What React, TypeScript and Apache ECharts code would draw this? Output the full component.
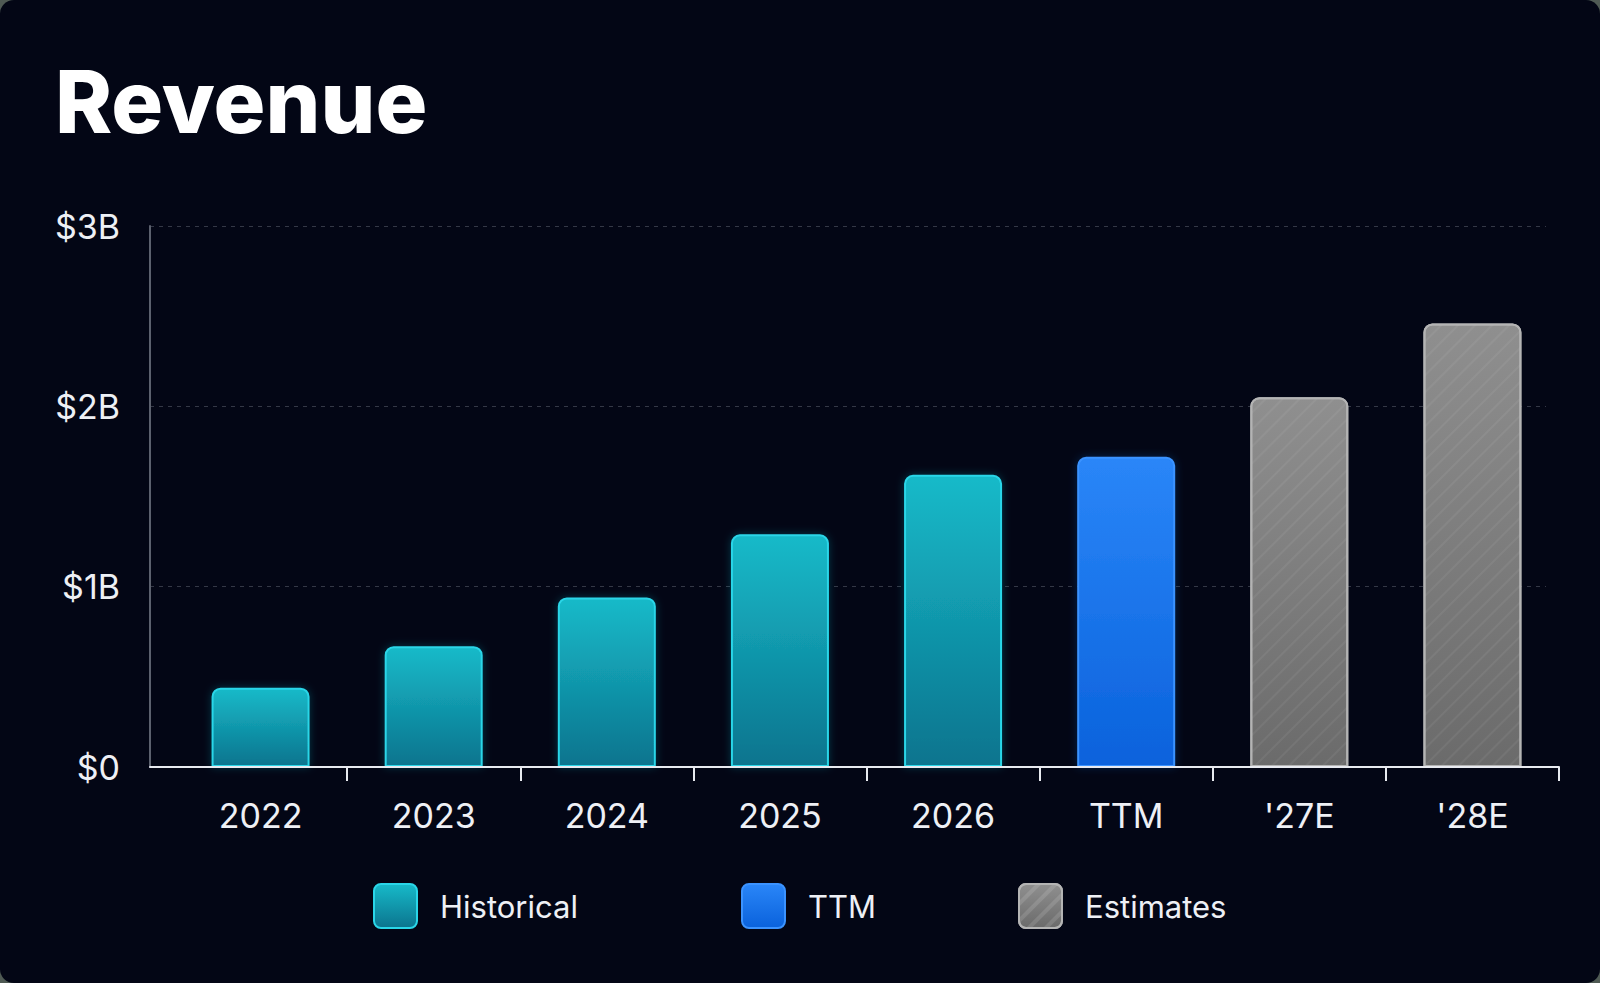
import React, { useEffect, useRef } from "react";
import * as echarts from "echarts";

const categories = ["2022", "2023", "2024", "2025", "2026", "TTM", "'27E", "'28E"];
const historicalValues = [0.44, 0.67, 0.94, 1.29, 1.62];
const ttmValues = [1.72];
const estimateValues = [2.05, 2.46];
const yTicks = [0, 1, 2, 3];

const ICON = "path://M7,0H36A7,7,0,0,1,43,7V37A7,7,0,0,1,36,44H7A7,7,0,0,1,0,37V7A7,7,0,0,1,7,0Z";

const grad = (top: string, bottom: string) =>
  new echarts.graphic.LinearGradient(0, 0, 0, 1, [
    { offset: 0, color: top },
    { offset: 1, color: bottom },
  ]);

export default function App() {
  const ref = useRef<HTMLDivElement>(null);

  useEffect(() => {
    document.body.style.margin = "0";
    document.body.style.background = "#4f5a54";
    const chart = echarts.init(ref.current!, undefined, { renderer: "svg" });

    const n = categories.length;
    const histData = categories.map((_, i) => (i < historicalValues.length ? historicalValues[i] : "-"));
    const ttmData = categories.map((_, i) =>
      i >= historicalValues.length && i < historicalValues.length + ttmValues.length
        ? ttmValues[i - historicalValues.length]
        : "-"
    );
    const estStart = historicalValues.length + ttmValues.length;
    const estData = categories.map((_, i) => (i >= estStart && i < n ? estimateValues[i - estStart] : "-"));

    const histStyle = {
      color: grad("#17bac9", "#0b748e"),
      borderColor: "#2ad6e8",
      borderWidth: 2,
      borderRadius: [8, 8, 0, 0],
      shadowBlur: 8,
      shadowColor: "rgba(40,210,230,0.25)",
    };
    const ttmStyle = {
      color: grad("#2a86f8", "#0a62dc"),
      borderColor: "#3b93ff",
      borderWidth: 2,
      borderRadius: [8, 8, 0, 0],
      shadowBlur: 8,
      shadowColor: "rgba(40,130,250,0.25)",
    };
    const decal = {
      symbol: "rect",
      symbolSize: 1,
      dashArrayX: [1, 0],
      dashArrayY: [2, 10],
      rotation: -Math.PI / 4,
      color: "rgba(255,255,255,0.055)",
    };
    const estStyle = {
      color: grad("#8f8f8f", "#6b6b6b"),
      borderColor: "#b4b4b4",
      borderWidth: 2,
      borderRadius: [8, 8, 0, 0],
      decal,
    };

    const textColor = "#eef0f5";
    const font = "Inter";

    const legendBase = {
      top: 883,
      padding: 0,
      itemWidth: 43,
      itemHeight: 44,
      selectedMode: false,
      textStyle: { color: textColor, fontSize: 31, fontFamily: font, padding: [0, 0, 0, 18] },
    };

    chart.setOption({
      animation: false,
      backgroundColor: "transparent",
      title: {
        text: "Revenue",
        left: 55,
        top: 58,
        padding: 0,
        textStyle: { color: "#ffffff", fontSize: 86.5, fontWeight: 800, fontFamily: font, lineHeight: 86 },
      },
      legend: [
        { ...legendBase, left: 373, data: [{ name: "Historical", icon: ICON, itemStyle: { ...histStyle, shadowBlur: 0 } }] },
        { ...legendBase, left: 741, data: [{ name: "TTM", icon: ICON, itemStyle: { ...ttmStyle, shadowBlur: 0 } }] },
        { ...legendBase, left: 1018, data: [{ name: "Estimates", icon: ICON, itemStyle: { ...estStyle, decal: { ...decal, dashArrayY: [4, 8], color: "rgba(255,255,255,0.12)" } } }] },
      ],
      grid: [
        { left: 174, right: 41, top: 226, bottom: 216 },
        { left: 150, right: 54, top: 226, bottom: 216 },
      ],
      xAxis: [
        {
          type: "category",
          gridIndex: 0,
          data: categories,
          axisLine: { show: true, lineStyle: { color: "#e8eaf0", width: 2 } },
          axisTick: { show: true, length: 14, interval: (i: number) => i !== 0, lineStyle: { color: "#e8eaf0", width: 2 } },
          axisLabel: { color: textColor, fontSize: 34, fontFamily: font, margin: 31 },
          splitLine: { show: false },
          z: 5,
        },
        {
          type: "value",
          gridIndex: 1,
          min: 0,
          max: 1,
          axisLine: { show: true, onZero: false, lineStyle: { color: "#e8eaf0", width: 2 } },
          axisTick: { show: false },
          axisLabel: { show: false },
          splitLine: { show: false },
        },
      ],
      yAxis: [
        { type: "value", gridIndex: 0, min: 0, max: 3, interval: 1, show: false, splitLine: { show: false } },
        {
          type: "value",
          gridIndex: 1,
          min: yTicks[0],
          max: yTicks[yTicks.length - 1],
          interval: 1,
          axisLine: { show: true, lineStyle: { color: "#5c616e", width: 2 } },
          axisTick: { show: false },
          axisLabel: {
            color: textColor,
            fontSize: 34,
            fontFamily: font,
            margin: 30,
            formatter: (v: number) => (v === 0 ? "$0" : `$${v}B`),
          },
          splitLine: { show: true, lineStyle: { color: "#343846", width: 1, type: [4, 5] } },
        },
      ],
      series: [
        { name: "Historical", type: "bar", xAxisIndex: 0, yAxisIndex: 0, data: histData, barWidth: 98, barGap: "-100%", itemStyle: histStyle, z: 3 },
        { name: "TTM", type: "bar", xAxisIndex: 0, yAxisIndex: 0, data: ttmData, barWidth: 98, barGap: "-100%", itemStyle: ttmStyle, z: 3 },
        { name: "Estimates", type: "bar", xAxisIndex: 0, yAxisIndex: 0, data: estData, barWidth: 98, barGap: "-100%", itemStyle: estStyle, z: 3 },
      ],
    });

    return () => chart.dispose();
  }, []);

  return (
    <div
      style={{
        width: 1600,
        height: 983,
        background: "#030615",
        borderRadius: 14,
        overflow: "hidden",
        position: "relative",
      }}
    >
      <div ref={ref} style={{ width: 1600, height: 983 }} />
    </div>
  );
}
